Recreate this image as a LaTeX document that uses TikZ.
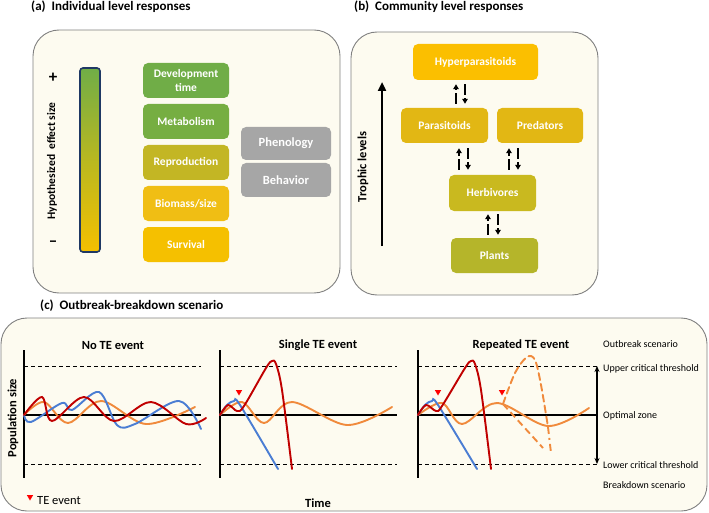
\documentclass[tikz,border=0pt]{standalone}
\usepackage{fontspec}
\setmainfont{Carlito}
\usetikzlibrary{arrows.meta,shapes.geometric}
\definecolor{cream}{HTML}{FDFBF0}
\definecolor{frame}{HTML}{808080}
\definecolor{cgreen}{HTML}{70AD47}
\definecolor{cgreenb}{HTML}{76AE42}
\definecolor{cgold}{HTML}{F5C000}
\definecolor{cgoldb}{HTML}{F0BE14}
\definecolor{colive}{HTML}{C3B624}
\definecolor{cpar}{HTML}{E2B714}
\definecolor{cherb}{HTML}{C9B91F}
\definecolor{cplant}{HTML}{B5B52A}
\definecolor{chyp}{HTML}{FBBF00}
\definecolor{cgray}{HTML}{A6A6A6}
\definecolor{cred}{HTML}{C00000}
\definecolor{cblue}{HTML}{4A7DD3}
\definecolor{corange}{HTML}{F08A3C}
\definecolor{cnavy}{HTML}{1F3864}
\definecolor{cmark}{HTML}{FF0000}
\tikzset{
  panel/.style={draw=frame, line width=0.9, fill=cream, rounded corners=26},
  box/.style={rounded corners=5, inner sep=1, text=white, align=center,
    font=\bfseries\fontsize{11.5}{13.5}\selectfont},
  ptitle/.style={anchor=west, inner sep=0, font=\bfseries\fontsize{13}{15}\selectfont},
  stitle/.style={inner sep=0, font=\bfseries\fontsize{12.5}{15}\selectfont},
  rlabel/.style={anchor=west, inner sep=0, font=\fontsize{10}{12}\selectfont},
  axis/.style={line width=2.4, black},
  thr/.style={line width=0.8, black, dash pattern=on 4 off 3},
  curve/.style={line width=1.9, line cap=round, smooth, tension=0.55},
  updn/.style={line width=2, -{Triangle[length=5,width=5.5]}, dash pattern=on 11 off 3,
    shorten <=4, shorten >=4}
}
\newcommand{\temark}[2]{\fill[cmark] (#1-3.2,#2-3) -- (#1+3.2,#2-3) -- (#1,#2+2.5) -- cycle;}
\begin{document}
\begin{tikzpicture}[x=1pt,y=-1pt]
\useasboundingbox (0,0) rectangle (709,513);
% ---------------- panel (a)
\node[ptitle] (ta) at (31,7) {(a)\ \ Individual level responses};
\draw[panel] (33,30) rectangle (340,293);
\draw[cnavy, line width=1.6, rounded corners=3, top color=cgreen, bottom color=cgold,
  middle color=cgreen!45!cgold] (80,68) rectangle (100,252);
\node[inner sep=0, font=\bfseries\fontsize{17}{19}\selectfont] (plus) at (53,78) {+};
\node[inner sep=0, font=\bfseries\fontsize{17}{19}\selectfont] (minus) at (53,244) {–};
\node[inner sep=0, rotate=90, font=\bfseries\fontsize{11.5}{13}\selectfont] (hyplab) at (52,161) {Hypothesized\ \ effect size};
\node[box, fill=cgreen, minimum width=86, minimum height=35] (dev) at (186,80.5) {Development\\time};
\node[box, fill=cgreenb, minimum width=86, minimum height=35] (met) at (186,121.5) {Metabolism};
\node[box, fill=colive, minimum width=86, minimum height=35] (rep) at (186,162.5) {Reproduction};
\node[box, fill=cgoldb, minimum width=86, minimum height=35] (bio) at (186,203.5) {Biomass/size};
\node[box, fill=cgold, minimum width=86, minimum height=35] (sur) at (186,244.5) {Survival};
\node[box, fill=cgray, minimum width=90, minimum height=33, font=\bfseries\fontsize{12.5}{14}\selectfont] (phe) at (286,143.5) {Phenology};
\node[box, fill=cgray, minimum width=90, minimum height=34, font=\bfseries\fontsize{12.5}{14}\selectfont] (beh) at (286,180) {Behavior};
% ---------------- panel (b)
\node[ptitle] (tb) at (354,7) {(b)\ \ Community level responses};
\draw[panel] (351,32) rectangle (598,295);
\node[box, fill=chyp, minimum width=125, minimum height=36] (hyp) at (475.5,62) {Hyperparasitoids};
\node[box, fill=cpar, minimum width=87, minimum height=35] (par) at (444.5,125.5) {Parasitoids};
\node[box, fill=cpar, minimum width=86, minimum height=35] (pre) at (540,125.5) {Predators};
\node[box, fill=cherb, minimum width=87, minimum height=36] (her) at (492.5,193) {Herbivores};
\node[box, fill=cplant, minimum width=87, minimum height=35] (pla) at (494.5,255.5) {Plants};
\draw[updn] (456,0 |- par.north) -- (456,0 |- hyp.south);
\draw[updn] (465,0 |- hyp.south) -- (465,0 |- par.north);
\draw[updn, shorten <=5, shorten >=5] (459,0 |- her.north) -- (459,0 |- par.south);
\draw[updn, shorten <=5, shorten >=5] (468,0 |- par.south) -- (468,0 |- her.north);
\draw[updn, shorten <=5, shorten >=5] (509,0 |- her.north) -- (509,0 |- pre.south);
\draw[updn, shorten <=5, shorten >=5] (518,0 |- pre.south) -- (518,0 |- her.north);
\draw[updn, shorten <=3, shorten >=3] (488,0 |- pla.north) -- (488,0 |- her.south);
\draw[updn, shorten <=3, shorten >=3] (498,0 |- her.south) -- (498,0 |- pla.north);
\coordinate (tlb) at (382,246);
\coordinate (tlt) at (382,82);
\draw[line width=2.6, -{Triangle[length=9,width=8]}] (tlb) -- (tlt);
\node[inner sep=0, rotate=90, font=\bfseries\fontsize{12.5}{15}\selectfont] (tll) at (363,167) {Trophic levels};
% ---------------- panel (c)
\node[ptitle] (tc) at (40,306) {(c)\ \ Outbreak-breakdown scenario};
\draw[panel] (1,318) rectangle (707,511);
\node[stitle] (s1) at (113,345) {No TE event};
\node[stitle] (s2) at (318,345) {Single TE event};
\node[stitle] (s3) at (521,345) {Repeated TE event};
\node[inner sep=0, rotate=90, font=\bfseries\fontsize{12.5}{14}\selectfont] (pop) at (13,418) {Population size};
\node[inner sep=0, font=\bfseries\fontsize{12.5}{14}\selectfont] (time) at (318,503) {Time};
\temark{30}{498}
\node[inner sep=0, anchor=west, font=\fontsize{12.5}{14}\selectfont] (tel) at (37,501) {TE event};
% thresholds
\foreach \a/\b in {24/201,220/397,418/597}{
  \draw[thr] (\a,366) -- (\b,366);
  \draw[thr] (\a,464) -- (\b,464);
  \draw[axis] (\a,350) -- (\a,478);
  \draw[axis] (\a,415) -- (\b,415);
}
\coordinate (ua) at (597,366);
\coordinate (la) at (597,464);
\draw[line width=1.1, {Stealth[length=6,width=5]}-{Stealth[length=6,width=5]}] (ua) -- (la);
\node[rlabel] (l1) at (603,344) {Outbreak scenario};
\node[rlabel] (l2) at (603,369) {Upper critical threshold};
\node[rlabel] (l3) at (603,416) {Optimal zone};
\node[rlabel] (l4) at (603,465) {Lower critical threshold};
\node[rlabel] (l5) at (603,485) {Breakdown scenario};
% curves subplot 1
\draw[curve, corange] plot coordinates {(24,415) (44,402) (68,423) (101,401) (146,424) (195,407)};
\draw[curve, cblue] plot coordinates {(24,415) (31,422) (62,403) (72,410) (99,392) (117,425) (135,424) (179,401) (201,429)};
\draw[curve, cred] plot coordinates {(24,415) (42,397) (52,421) (84,397) (114,421) (151,402) (186,424) (206,418)};
% subplot 2
\draw[curve, corange] plot coordinates {(220,415) (242,402) (264,423) (292,402) (347,425) (392,407)};
\draw[curve, cblue] plot coordinates {(220,415) (227,405) (234,401) (240,405) (278,469)};
\draw[curve, cred] plot coordinates {(220,415) (228,405) (237,411) (244,406) (266,368) (272,361) (276,364) (282,390) (292,469)};
\temark{239}{393}
% subplot 3
\draw[curve, corange] plot coordinates {(418,415) (442,403) (462,424) (497,403) (548,426) (589,408)};
\draw[curve, corange, dash pattern=on 7 off 4] plot coordinates {(503,404) (515,373) (527,357) (535,360) (541,385) (548,427)};
\draw[line width=1.9, corange, dash pattern=on 7 off 4 on 2 off 4] (548,427) -- (551,453);
\draw[line width=1.9, corange, dash pattern=on 7 off 4] (503,404) -- (543,448);
\draw[curve, cblue] plot coordinates {(418,415) (425,405) (432,401) (438,405) (477,469)};
\draw[curve, cred] plot coordinates {(418,415) (426,405) (436,411) (442,406) (465,368) (471,361) (475,364) (481,390) (491,469)};
\temark{438}{393}
\temark{502}{393}
\end{tikzpicture}
\end{document}
